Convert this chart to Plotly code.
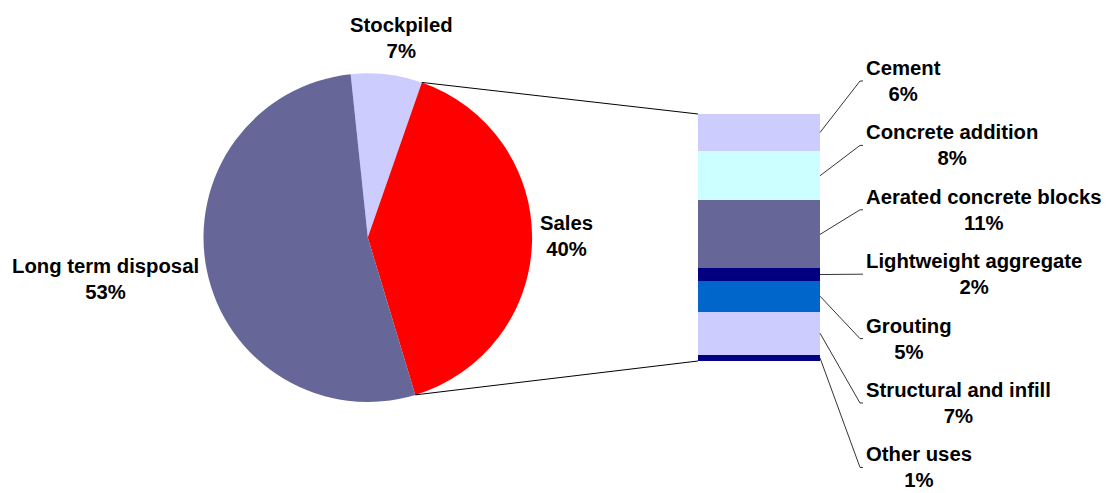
import math
import plotly.graph_objects as go

W, H = 1112, 493

# Overall split of the material
pie_labels = ["Stockpiled", "Sales", "Long term disposal"]
pie_values = [7, 40, 53]
pie_colors = ["#CCCCFF", "#FF0000", "#666699"]

# Breakdown of the "Sales" share by end use (top to bottom)
use_labels = ["Cement", "Concrete addition", "Aerated concrete blocks",
              "Lightweight aggregate", "Grouting", "Structural and infill", "Other uses"]
use_values = [6, 8, 11, 2, 5, 7, 1]
use_colors = ["#CCCCFF", "#CCFFFF", "#666699", "#000080", "#0066CC", "#CCCCFF", "#000080"]

FONT = dict(family="Liberation Sans, Arial, sans-serif", size=20.3, color="#000000", weight="bold")

# Layout geometry (pixels)
pie_cx, pie_cy, pie_r = 367.8, 237.6, 164.3
rotation = -6.0
bar_left, bar_right, bar_top, bar_bottom = 698, 820, 114, 361
elbow_x = 860
label_x = 864
label_y0, label_step = 81, 64.4


def px(x):
    return x / W


def py(y):
    return 1 - y / H


fig = go.Figure()

fig.add_trace(go.Pie(
    labels=pie_labels, values=pie_values, sort=False, direction="clockwise",
    rotation=rotation, marker=dict(colors=pie_colors, line=dict(width=0)),
    textinfo="none", hoverinfo="label+percent", showlegend=False,
    domain=dict(x=[px(pie_cx - pie_r), px(pie_cx + pie_r)],
                y=[py(pie_cy + pie_r), py(pie_cy - pie_r)]),
))

# Stacked bar: first trace sits at the bottom, so add in reverse
for lab, val, col in reversed(list(zip(use_labels, use_values, use_colors))):
    fig.add_trace(go.Bar(
        x=[0], y=[val], name=lab, width=1, xaxis="x2", yaxis="y2",
        marker=dict(color=col, line=dict(width=0)), showlegend=False,
        hovertemplate=lab + ": %{y}%<extra></extra>",
    ))

total = sum(use_values)
fig.update_layout(
    width=W, height=H, margin=dict(l=0, r=0, t=0, b=0),
    paper_bgcolor="white", plot_bgcolor="white", barmode="stack",
    xaxis2=dict(domain=[px(bar_left), px(bar_right)], range=[-0.5, 0.5], visible=False,
                anchor="y2", fixedrange=True),
    yaxis2=dict(domain=[py(bar_bottom), py(bar_top)], range=[0, total], visible=False,
                anchor="x2", fixedrange=True),
    xaxis=dict(visible=False), yaxis=dict(visible=False),
)

shapes = []
annotations = []


def slice_edge(angle_deg):
    a = math.radians(angle_deg)
    return pie_cx + pie_r * math.sin(a), pie_cy - pie_r * math.cos(a)


# Connector lines from the edges of the Sales slice to the bar
sales_start = rotation + pie_values[0] / sum(pie_values) * 360
sales_end = sales_start + pie_values[1] / sum(pie_values) * 360
for ang, by in ((sales_start, bar_top), (sales_end, bar_bottom)):
    ex, ey = slice_edge(ang)
    shapes.append(dict(type="line", xref="paper", yref="paper",
                       x0=px(ex), y0=py(ey), x1=px(bar_left), y1=py(by),
                       line=dict(color="#000000", width=1)))

# Leader lines and labels for each end use
unit = (bar_bottom - bar_top) / total
top = bar_top
for i, (lab, val) in enumerate(zip(use_labels, use_values)):
    mid = top + val * unit / 2
    top += val * unit
    ly = label_y0 + i * label_step
    shapes.append(dict(type="path", xref="paper", yref="paper",
                       path=f"M {px(bar_right)},{py(mid)} L {px(elbow_x)},{py(ly)} L {px(elbow_x + 3)},{py(ly)}",
                       line=dict(color="#000000", width=0.8)))
    annotations.append(dict(text=f"{lab}<br>{val}%", x=px(label_x), y=py(ly),
                            xref="paper", yref="paper", xanchor="left", yanchor="middle",
                            align="center", showarrow=False, font=FONT))

# Labels for the pie slices
pie_label_pos = {"Stockpiled": (402, 38), "Sales": (566, 236), "Long term disposal": (105, 279)}
for lab, val in zip(pie_labels, pie_values):
    lx, ly = pie_label_pos[lab]
    annotations.append(dict(text=f"{lab}<br>{val}%", x=px(lx), y=py(ly),
                            xref="paper", yref="paper", xanchor="center", yanchor="middle",
                            align="center", showarrow=False, font=FONT))

fig.update_layout(shapes=shapes, annotations=annotations)

fig.write_html("out.html", config=dict(displayModeBar=False))
